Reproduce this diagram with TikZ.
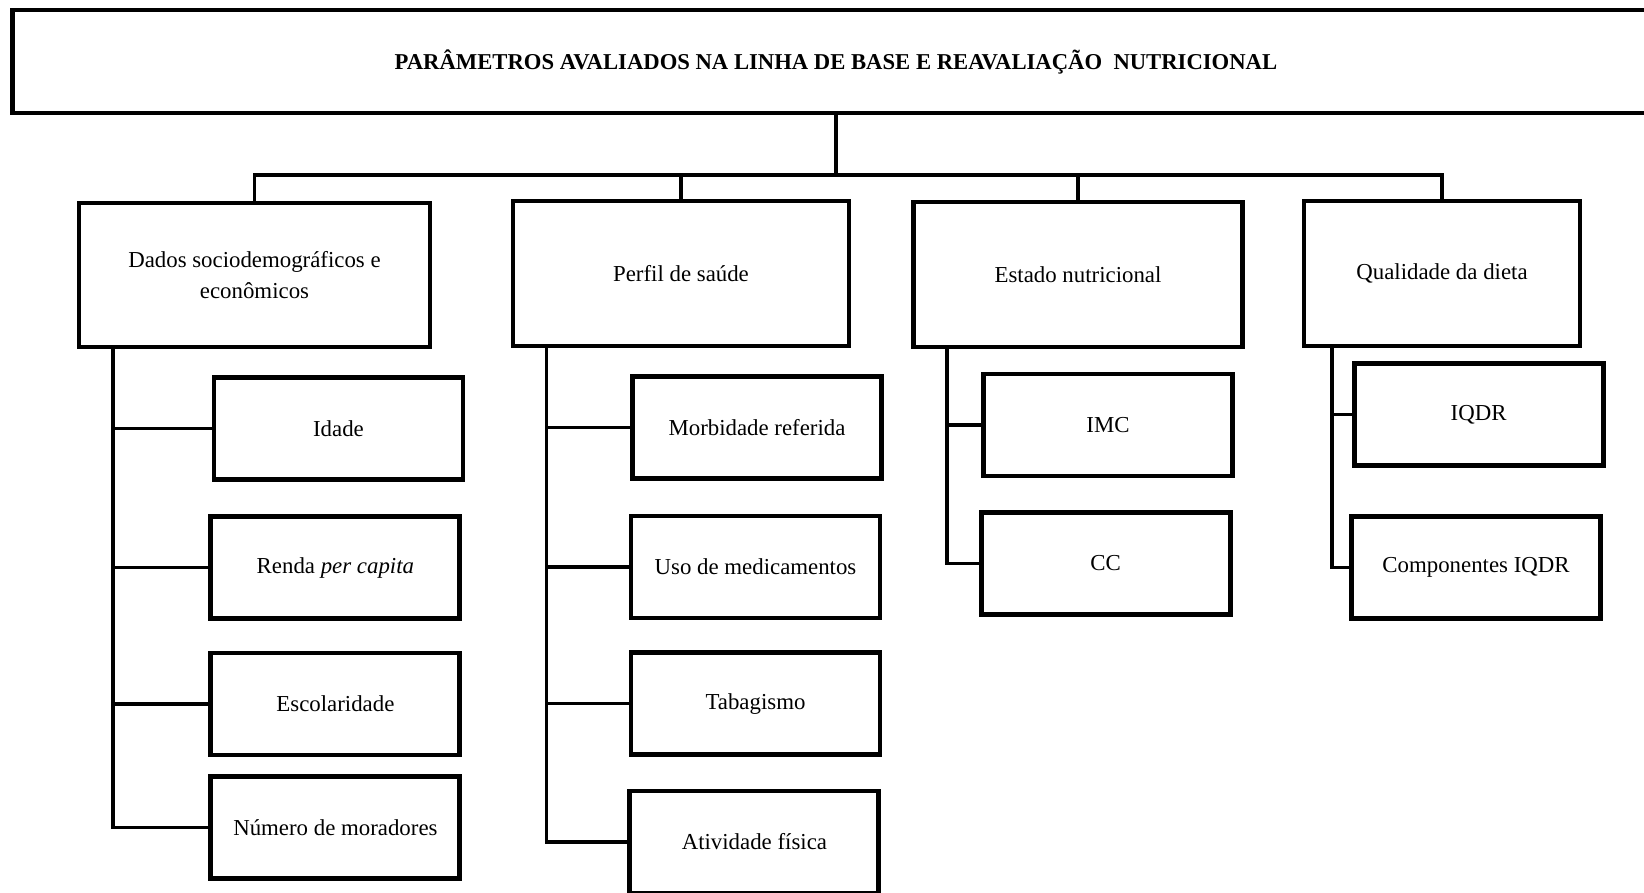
\documentclass[tikz,border=0pt]{standalone}
\usepackage{fontspec}
\setmainfont{Liberation Serif}
\begin{document}
\begin{tikzpicture}[x=0.02cm, y=-0.02cm, line join=miter,
	box/.style={draw, line width=2.8pt, minimum height=2.9cm, align=center, inner sep=2pt, font=\fontsize{13}{18}\selectfont},
	sub/.style={box, minimum width=4.98cm, minimum height=2.04cm},
	link/.style={line width=2pt}]
	\useasboundingbox (0,0) rectangle (1644,893);
	% topo
	\node[box, minimum width=32.95cm, minimum height=2.06cm, font=\bfseries\fontsize{12.9}{15}\selectfont] (top) at (836,61.5) {PARÂMETROS AVALIADOS NA LINHA DE BASE E REAVALIAÇÃO\ \ NUTRICIONAL};
	% nivel 1
	\node[box, minimum width=7.02cm, minimum height=2.88cm] (dados) at (254.5,275) {Dados sociodemográficos e\\econômicos};
	\node[box, minimum width=6.72cm] (perfil) at (681,273.5) {Perfil de saúde};
	\node[box, minimum width=6.58cm] (estado) at (1078,274.5) {Estado nutricional};
	\node[box, minimum width=5.52cm] (qual) at (1442,273.5) {Qualidade da dieta};
	% nivel 2
	\node[sub] (idade) at (338.5,428.7) {Idade};
	\node[sub] (renda) at (335.4,567.5) {Renda \textit{per capita}};
	\node[sub] (escol) at (335.4,704) {Escolaridade};
	\node[sub] (numero) at (335.4,827.5) {Número de moradores};
	\node[sub] (morb) at (757,427.6) {Morbidade referida};
	\node[sub] (uso) at (755.5,567) {Uso de medicamentos};
	\node[sub] (tabag) at (755.5,703.7) {Tabagismo};
	\node[sub] (ativ) at (754.4,842) {Atividade física};
	\node[sub] (imc) at (1108,425) {IMC};
	\node[sub] (cc) at (1105.6,563.3) {CC};
	\node[sub] (iqdr) at (1478.6,414.5) {IQDR};
	\node[sub] (comp) at (1476,567.5) {Componentes IQDR};
	% ligacoes
	\coordinate (bus) at (836,175);
	\draw[line width=2.8pt] (top.south) -- (bus);
	\draw[link] (dados.north) |- (qual.north |- bus) -- (qual.north);
	\draw[link] (perfil.north) -- (perfil.north |- bus);
	\draw[link] (estado.north) -- (estado.north |- bus);
	\coordinate (dv) at (113,349);
	\coordinate (pv) at (546.3,348);
	\coordinate (ev) at (946.8,349);
	\coordinate (qv) at (1332.2,348);
	\draw[link] (dv) |- (numero.west);
	\foreach \n in {idade,renda,escol}
		\draw[link] (\n.west) -- (\n.west -| dv);
	\draw[link] (pv) |- (ativ.west);
	\foreach \n in {morb,uso,tabag}
		\draw[link] (\n.west) -- (\n.west -| pv);
	\draw[link] (ev) |- (cc.west);
	\draw[link] (imc.west) -- (imc.west -| ev);
	\draw[link] (qv) |- (comp.west);
	\draw[link] (iqdr.west) -- (iqdr.west -| qv);
\end{tikzpicture}
\end{document}
